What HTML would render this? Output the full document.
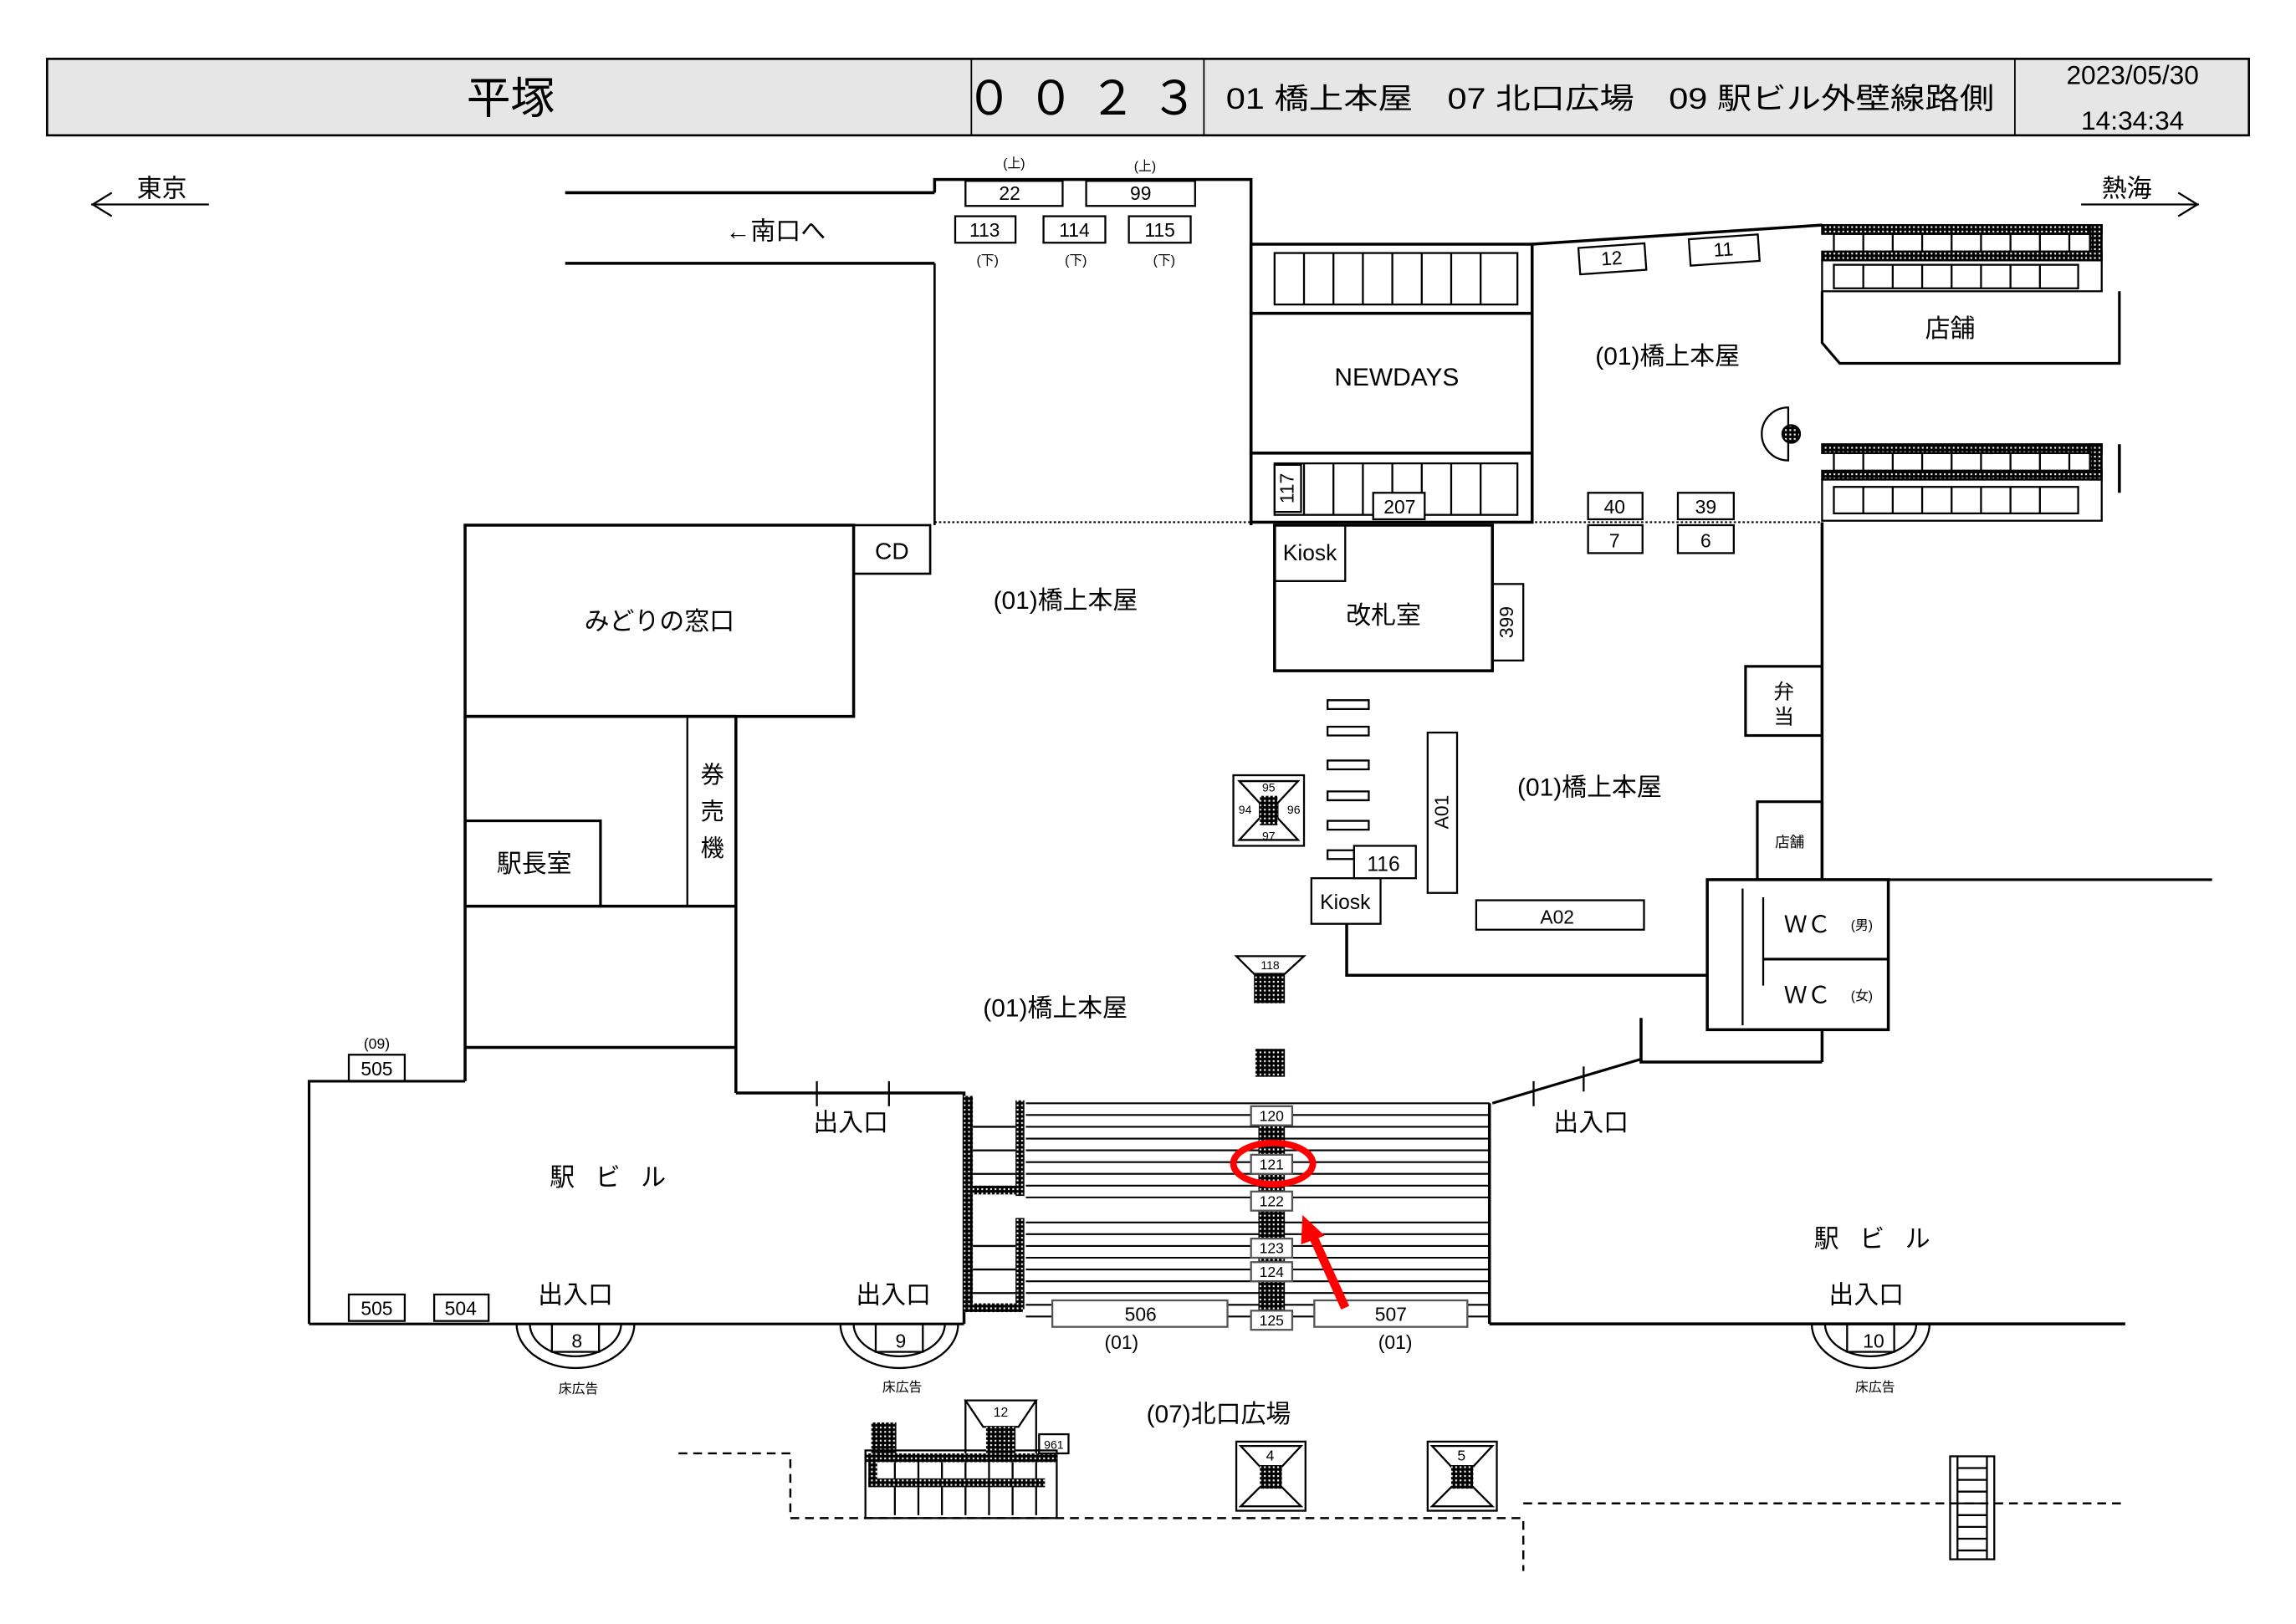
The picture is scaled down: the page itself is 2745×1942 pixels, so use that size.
<!DOCTYPE html>
<html><head><meta charset="utf-8"><style>
html,body{margin:0;padding:0;background:#fff;}
svg{display:block;}
text{font-family:"Liberation Sans","Noto Sans CJK JP",sans-serif;fill:#000;}
</style></head><body>
<svg width="2745" height="1942" viewBox="0 0 1560 1104" preserveAspectRatio="none" xmlns="http://www.w3.org/2000/svg">
<defs>
<pattern id="h" width="3" height="3" patternUnits="userSpaceOnUse"><rect width="3" height="3" fill="#000"/><rect x="0.8" y="0.8" width="1.2" height="1.2" fill="#fff"/></pattern>
</defs>
<rect width="1560" height="1104" fill="#fff"/>
<!-- header -->
<rect x="32" y="40" width="1496" height="52" fill="#e6e6e6" stroke="#000" stroke-width="1.5"/>
<line x1="660" y1="40" x2="660" y2="92" stroke="#000"/>
<line x1="818" y1="40" x2="818" y2="92" stroke="#000"/>
<line x1="1369" y1="40" x2="1369" y2="92" stroke="#000"/>
<text x="347" y="77" font-size="30" text-anchor="middle">平塚</text>
<text x="740" y="78" font-size="32" text-anchor="middle" letter-spacing="10">００２３</text>
<text x="833" y="74" font-size="20" textLength="522" lengthAdjust="spacingAndGlyphs">01 橋上本屋　07 北口広場　09 駅ビル外壁線路側</text>
<text x="1449" y="57" font-size="18" text-anchor="middle">2023/05/30</text>
<text x="1449" y="88" font-size="18" text-anchor="middle">14:34:34</text>

<g stroke="#000" fill="none" stroke-width="1.3">
<!-- direction arrows -->
<line x1="62" y1="139" x2="142" y2="139"/><polyline points="76,131 63,139 76,147"/>
<line x1="1414" y1="139" x2="1494" y2="139"/><polyline points="1480,131 1493,139 1480,147"/>
<!-- south passage -->
<line x1="384" y1="131" x2="635" y2="131" stroke-width="2"/>
<line x1="384" y1="179" x2="635" y2="179" stroke-width="2"/>
<polyline points="635,131 635,122 850,122 850,357" stroke-width="2"/>
<line x1="635" y1="179" x2="635" y2="357" stroke-width="1.5"/>
<rect x="656" y="123" width="66" height="17"/>
<rect x="738" y="123" width="74" height="17"/>
<rect x="649" y="147" width="41" height="18"/>
<rect x="709" y="147" width="42" height="18"/>
<rect x="767" y="147" width="42" height="18"/>
<!-- stairs top middle -->
<rect x="850" y="166" width="191" height="47" stroke-width="2"/>
<rect x="866" y="172" width="165" height="35"/>
<path d="M886,172V207M906,172V207M926,172V207M946,172V207M966,172V207M986,172V207M1006,172V207"/>
<rect x="850" y="213" width="191" height="95" stroke-width="2"/>
<rect x="850" y="308" width="191" height="47" stroke-width="2"/>
<rect x="866" y="315" width="165" height="35"/>
<path d="M886,315V350M906,315V350M926,315V350M946,315V350M966,315V350M986,315V350M1006,315V350"/>
<rect x="866" y="316" width="18" height="32" fill="#fff"/>
<rect x="933" y="335" width="35" height="18" fill="#fff"/>
<line x1="635" y1="355" x2="1238" y2="355" stroke-dasharray="1.5,1.5" stroke-width="1.2"/>
<!-- top right -->
<line x1="1041" y1="166" x2="1238" y2="153" stroke-width="2"/>
<g transform="rotate(-4 1095 176)"><rect x="1073" y="167" width="45" height="18"/></g>
<g transform="rotate(-4 1171 170)"><rect x="1148" y="161" width="47" height="18"/></g>
<rect x="1238" y="153" width="190" height="6" fill="url(#h)"/>
<rect x="1420" y="153" width="8" height="24" fill="url(#h)"/>
<rect x="1238" y="171" width="190" height="6" fill="url(#h)"/>
<rect x="1246" y="159" width="174" height="12"/>
<path d="M1266,159V171M1286,159V171M1306,159V171M1326,159V171M1346,159V171M1366,159V171M1386,159V171M1406,159V171"/>
<rect x="1238" y="177" width="190" height="21"/>
<rect x="1246" y="180" width="166" height="16"/>
<path d="M1266,180V196M1286,180V196M1306,180V196M1326,180V196M1346,180V196M1366,180V196M1386,180V196"/>
<polyline points="1238,198 1238,233 1250,247 1440,247 1440,198" stroke-width="1.8"/>
<path d="M1215,277 A18,18 0 0 0 1215,313 Z"/>
<circle cx="1217" cy="295" r="6" fill="url(#h)"/>
<rect x="1238" y="302" width="190" height="6" fill="url(#h)"/>
<rect x="1420" y="302" width="8" height="24" fill="url(#h)"/>
<line x1="1440" y1="302" x2="1440" y2="335" stroke-width="2"/>
<rect x="1238" y="320" width="190" height="6" fill="url(#h)"/>
<rect x="1246" y="308" width="174" height="12"/>
<path d="M1266,308V320M1286,308V320M1306,308V320M1326,308V320M1346,308V320M1366,308V320M1386,308V320M1406,308V320"/>
<rect x="1238" y="326" width="190" height="28"/>
<rect x="1246" y="331" width="166" height="18"/>
<path d="M1266,331V349M1286,331V349M1306,331V349M1326,331V349M1346,331V349M1366,331V349M1386,331V349"/>
<rect x="1079" y="335" width="37" height="18"/>
<rect x="1140" y="335" width="38" height="18"/>
<rect x="1079" y="357" width="37" height="19"/>
<rect x="1140" y="357" width="38" height="19"/>
<line x1="1238" y1="355" x2="1238" y2="598" stroke-width="2"/>
<!-- left blocks -->
<rect x="316" y="357" width="264" height="130" stroke-width="2"/>
<rect x="580" y="357" width="52" height="33" stroke-width="1.5"/>
<line x1="316" y1="487" x2="316" y2="735" stroke-width="2"/>
<line x1="316" y1="487" x2="500" y2="487" stroke-width="2"/>
<rect x="467" y="487" width="33" height="129"/>
<rect x="316" y="558" width="92" height="58" stroke-width="1.8"/>
<line x1="316" y1="616" x2="500" y2="616" stroke-width="2"/>
<line x1="316" y1="712" x2="500" y2="712" stroke-width="2"/>
<line x1="500" y1="487" x2="500" y2="743" stroke-width="2"/>
<polyline points="210,900 210,735 316,735" stroke-width="1.8"/>
<rect x="237" y="717" width="38" height="18"/>
<polyline points="500,743 655,743 655,900" stroke-width="2"/>
<line x1="555" y1="735" x2="555" y2="752"/><line x1="604" y1="735" x2="604" y2="752"/>
<line x1="210" y1="900" x2="655" y2="900" stroke-width="1.8"/>
<rect x="237" y="880" width="38" height="18"/>
<rect x="295" y="880" width="37" height="18"/>
<!-- gates -->
<rect x="866" y="357" width="148" height="99" stroke-width="2"/>
<rect x="866" y="357" width="48" height="38"/>
<rect x="1014" y="397" width="21" height="52"/>
<path d="M902,476h28v6h-28zM902,494h28v6h-28zM902,517h28v6h-28zM902,538h28v6h-28zM902,558h28v6h-28zM902,578h18v6h-18z"/>
<rect x="970" y="498" width="20" height="109"/>
<rect x="920" y="575" width="42" height="22"/>
<rect x="891" y="597" width="47" height="31"/>
<polyline points="915,628 915,663 1160,663" stroke-width="2"/>
<rect x="1003" y="612" width="114" height="20"/>
<rect x="838" y="527" width="48" height="48"/>
<polygon points="842,531 882,531 868,546 868,556 882,571 842,571 856,556 856,546"/>
<rect x="856" y="541" width="12" height="20" fill="url(#h)" stroke="none"/>
<rect x="1186" y="453" width="52" height="47" stroke-width="1.8"/>
<rect x="1194" y="545" width="44" height="53" stroke-width="1.8"/>
<rect x="1160" y="598" width="123" height="102" stroke-width="2"/>
<line x1="1198" y1="652" x2="1283" y2="652" stroke-width="1.8"/>
<line x1="1184" y1="604" x2="1184" y2="697"/>
<line x1="1198" y1="610" x2="1198" y2="670"/>
<line x1="1283" y1="598" x2="1503" y2="598" stroke-width="1.8"/>
<line x1="1238" y1="700" x2="1238" y2="722" stroke-width="2"/>
<polyline points="1115,692 1115,722 1238,722" stroke-width="2"/>
<line x1="1115" y1="720" x2="1014" y2="750" stroke-width="1.8"/>
<line x1="1042" y1="735" x2="1042" y2="752"/><line x1="1076" y1="725" x2="1076" y2="742"/>
<polygon points="840,650 886,650 873,662 852,662"/>
<rect x="852" y="662" width="21" height="20" fill="url(#h)" stroke="none"/>
<rect x="853" y="713" width="20" height="19" fill="url(#h)" stroke="none"/>
<!-- central stairs -->
<path d="M697,750H1012M697,758H1012M697,766H1012M697,774H1012M697,782H1012M697,790H1012M697,798H1012M697,806H1012M697,814H1012" stroke-width="1.2"/>
<path d="M697,831H1012M697,839H1012M697,847H1012M697,855H1012M697,863H1012M697,871H1012M697,879H1012M697,887H1012M697,895H1012" stroke-width="1.2"/>
<line x1="1012" y1="750" x2="1012" y2="900" stroke-width="2"/>
<rect x="655" y="745" width="6" height="145" fill="url(#h)" stroke="none"/>
<rect x="655" y="683" width="0" height="0"/>
<rect x="690" y="748" width="6" height="65" fill="url(#h)" stroke="none"/>
<rect x="690" y="828" width="6" height="62" fill="url(#h)" stroke="none"/>
<rect x="655" y="806" width="40" height="6" fill="url(#h)" stroke="none"/>
<rect x="655" y="886" width="40" height="6" fill="url(#h)" stroke="none"/>
<path d="M661,766H690M661,782H690M661,798H690M661,847H690M661,863H690M661,879H690"/>
<rect x="855" y="765" width="18" height="126" fill="url(#h)" stroke="none"/>
<g fill="#fff" stroke="#555" stroke-width="1.3">
<rect x="850" y="752" width="28" height="13"/>
<rect x="850" y="785" width="28" height="13"/>
<rect x="850" y="810" width="28" height="13"/>
<rect x="850" y="842" width="28" height="13"/>
<rect x="850" y="858" width="28" height="13"/>
<rect x="850" y="891" width="28" height="13"/>
<rect x="715" y="884" width="119" height="18"/>
<rect x="893" y="884" width="104" height="18"/>
</g>
<line x1="1012" y1="900" x2="1444" y2="900" stroke-width="2"/>
<!-- floor ads -->
<g id="fa">
<path d="M351,900 A40,30 0 0 0 431,900"/><path d="M360,900 A31,22 0 0 0 422,900"/>
<rect x="375" y="900" width="32" height="19"/>
</g>
<use href="#fa" x="220"/><use href="#fa" x="880"/>
<!-- north plaza -->
<path d="M461,988H537V1032H1035V1068M1035,1022H1445" stroke-dasharray="6,4" stroke-width="1.4"/>
<rect x="592" y="967" width="17" height="21" fill="url(#h)" stroke="none"/>
<rect x="588" y="986" width="130" height="46"/>
<rect x="588" y="988" width="130" height="6" fill="url(#h)" stroke="none"/>
<rect x="590" y="988" width="6" height="22" fill="url(#h)" stroke="none"/>
<rect x="590" y="1005" width="120" height="6" fill="url(#h)" stroke="none"/>
<path d="M608,1011V1030M624,1011V1030M640,1011V1030M656,1011V1030M672,1011V1030M688,1011V1030M704,1011V1030M608,994V1005M624,994V1005M640,994V1005M656,994V1005M672,994V1005M688,994V1005M704,994V1005"/>
<polygon points="656,952 704,952 692,970 668,970"/>
<rect x="670" y="970" width="20" height="18" fill="url(#h)" stroke="none"/>
<line x1="656" y1="952" x2="656" y2="988"/><line x1="704" y1="952" x2="704" y2="988"/>
<rect x="706" y="975" width="20" height="13"/>
<g id="pl"><rect x="840" y="980" width="47" height="47"/>
<polygon points="843,983 884,983 870,998 870,1010 884,1024 843,1024 857,1010 857,998"/>
<rect x="856" y="996" width="15" height="16" fill="url(#h)" stroke="none"/></g>
<use href="#pl" x="130"/>
<rect x="1325" y="990" width="30" height="70"/>
<path d="M1330,990V1060M1350,990V1060M1330,998H1350M1330,1006H1350M1330,1014H1350M1330,1022H1350M1330,1030H1350M1330,1038H1350M1330,1046H1350M1330,1054H1350"/>
<!-- red -->
<ellipse cx="865" cy="791" rx="27" ry="14" stroke="#f00" stroke-width="4.5"/>
</g>
<line x1="914" y1="889" x2="891" y2="838" stroke="#f00" stroke-width="6"/>
<polygon points="885,826 900,840 884,846" fill="#f00"/>

<!-- labels -->
<g font-size="17" text-anchor="middle">
<text x="110" y="134">東京</text>
<text x="1445" y="134">熱海</text>
<text x="527" y="163">←南口へ</text>
<text x="949" y="262" font-size="17">NEWDAYS</text>
<text x="1133" y="248">(01)橋上本屋</text>
<text x="1325" y="229">店舗</text>
<text x="606" y="380" font-size="16">CD</text>
<text x="448" y="428">みどりの窓口</text>
<text x="724" y="414">(01)橋上本屋</text>
<text x="890" y="381" font-size="15">Kiosk</text>
<text x="940" y="424">改札室</text>
<text x="1080" y="541">(01)橋上本屋</text>
<text x="363" y="593">駅長室</text>
<text x="914" y="618" font-size="14">Kiosk</text>
<text x="1058" y="628" font-size="13">A02</text>
<text x="940" y="592" font-size="14">116</text>
<text x="717" y="691">(01)橋上本屋</text>
<text x="420" y="806" letter-spacing="14">駅ビル</text>
<text x="1279" y="848" letter-spacing="14">駅ビル</text>
<text x="578" y="769">出入口</text>
<text x="1081" y="769">出入口</text>
<text x="391" y="886">出入口</text>
<text x="607" y="886">出入口</text>
<text x="1268" y="886">出入口</text>
<text x="828" y="967">(07)北口広場</text>
</g>
<g font-size="16" text-anchor="middle">
<text x="484" y="532">券</text><text x="484" y="557">売</text><text x="484" y="582">機</text>
<text x="1212" y="475" font-size="14">弁</text><text x="1212" y="492" font-size="14">当</text>
<text x="1216" y="576" font-size="10">店舗</text>
<text x="1228" y="634" font-size="16">ＷＣ</text><text x="1265" y="632" font-size="9">(男)</text>
<text x="1228" y="682" font-size="16">ＷＣ</text><text x="1265" y="680" font-size="9">(女)</text>
</g>
<g font-size="13" text-anchor="middle">
<text x="689" y="114" font-size="9">(上)</text><text x="778" y="116" font-size="9">(上)</text>
<text x="671" y="180" font-size="9">(下)</text><text x="731" y="180" font-size="9">(下)</text><text x="791" y="180" font-size="9">(下)</text>
<text x="686" y="136">22</text><text x="775" y="136">99</text>
<text x="669" y="161">113</text><text x="730" y="161">114</text><text x="788" y="161">115</text>
<text x="1095" y="180" transform="rotate(-4 1095 176)">12</text>
<text x="1171" y="174" transform="rotate(-4 1171 170)">11</text>
<text x="951" y="349">207</text>
<text x="875" y="332" transform="rotate(-90 875 332)" dy="4">117</text>
<text x="1024" y="423" transform="rotate(-90 1024 423)" dy="4">399</text>
<text x="980" y="552" transform="rotate(-90 980 552)" dy="4">A01</text>
<text x="1097" y="349">40</text><text x="1159" y="349">39</text>
<text x="1097" y="372">7</text><text x="1159" y="372">6</text>
<text x="256" y="731">505</text><text x="256" y="713" font-size="10">(09)</text>
<text x="256" y="894">505</text><text x="313" y="894">504</text>
<text x="392" y="916">8</text><text x="612" y="916">9</text><text x="1273" y="916">10</text>
<text x="775" y="898">506</text><text x="945" y="898">507</text>
<text x="762" y="917">(01)</text><text x="948" y="917">(01)</text>
<text x="393" y="947" font-size="9">床広告</text><text x="613" y="946" font-size="9">床広告</text><text x="1274" y="946" font-size="9">床広告</text>
</g>
<g font-size="10" text-anchor="middle">
<text x="864" y="762">120</text><text x="864" y="795">121</text><text x="864" y="820">122</text>
<text x="864" y="852">123</text><text x="864" y="868">124</text><text x="864" y="901">125</text>
<text x="862" y="538" font-size="8">95</text><text x="862" y="571" font-size="8">97</text>
<text x="846" y="553" font-size="8">94</text><text x="879" y="553" font-size="8">96</text>
<text x="863" y="659" font-size="8">118</text>
<text x="680" y="963" font-size="9">12</text>
<text x="716" y="985" font-size="8">961</text>
<text x="863" y="993">4</text><text x="993" y="993">5</text>
</g>
</svg>
</body></html>
